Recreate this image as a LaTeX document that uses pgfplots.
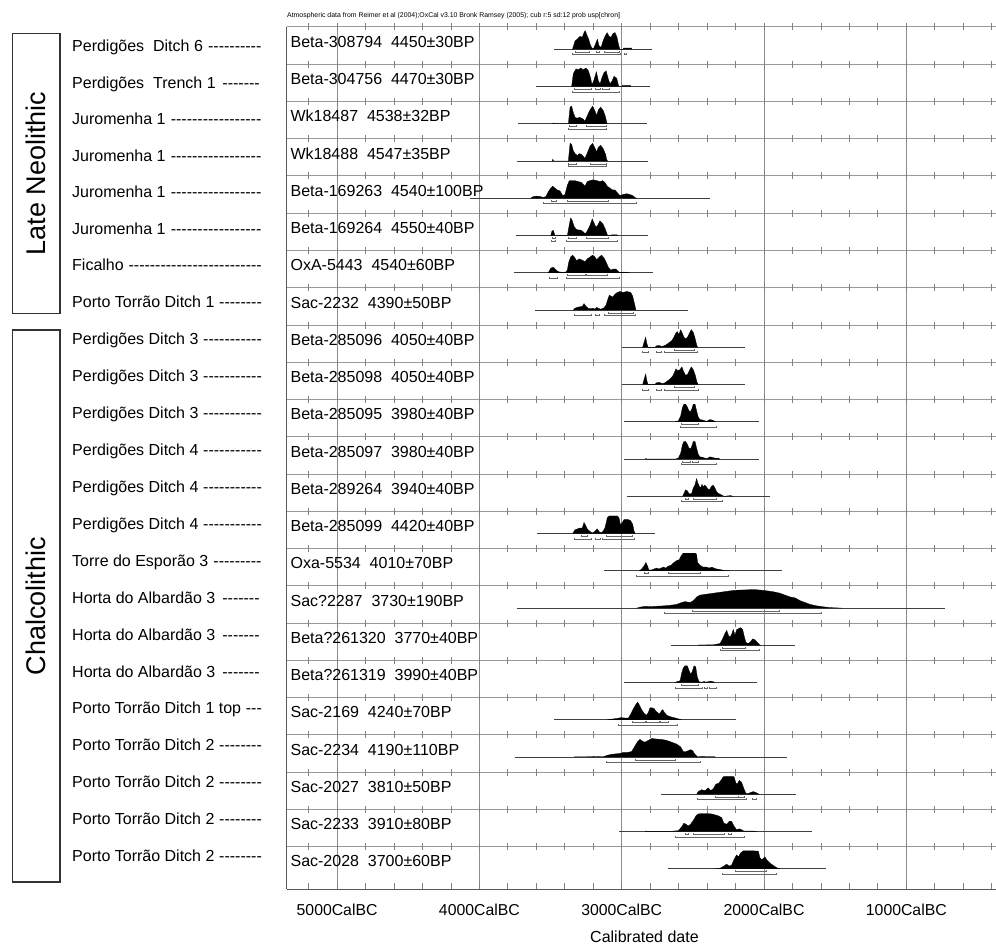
\documentclass[border=0pt]{standalone}
\usepackage{fontspec}
\setmainfont{Liberation Sans}
\usepackage{pgfplots}
\usepackage{pgfplotstable}
\pgfplotsset{compat=1.18}
\newcommand\fs[1]{\fontsize{#1}{#1}\selectfont}
\pgfplotstableread{
x y
400 0
600 0
800 0
1000 0
1200 0
1400 0
1600 0
1800 0
2000 0
2200 0
2400 0
2600 0
2800 0
3000 0
3200 0
3400 0
3600 0
3800 0
4000 0
4200 0
4400 0
4600 0
4800 0
5000 0
5200 0
}\septicktable
% #1 = depth of baseline below top (rows), #2 = table of year / relative height
\newcommand\dist[2]{\addplot[draw=black, line width=0.3pt, fill=black] table[header=false, row sep=\\, x index=0, y expr={0.5*\thisrowno{1}-#1}] {#2};}
\newcommand\rng[3]{\addplot[black!75, line width=0.8pt] coordinates {(#2,-#1) (#3,-#1)};}
\newcommand\bA[3]{\addplot[black!60, line width=0.6pt] table[header=false, row sep=\\, x index=0, y expr={\thisrowno{1}-#1-0.075}] {#2 0.035\\ #2 0\\ #3 0\\ #3 0.035\\};}
\newcommand\bB[3]{\addplot[black!60, line width=0.6pt] table[header=false, row sep=\\, x index=0, y expr={\thisrowno{1}-#1-0.145}] {#2 0.035\\ #2 0\\ #3 0\\ #3 0.035\\};}
\newcommand\lab[2]{\node[anchor=base west, inner sep=0pt, xshift=3.4pt, font={\fs{16}}] at (axis cs:5352,#1) {#2};}
\newcommand\llab[2]{\node[anchor=base west, inner sep=0pt] at (72pt,#1pt) {\fs{16}\hbox to 190pt{#2\ \cleaders\hbox{-}\hfill}};}
\begin{document}
\begin{tikzpicture}
\useasboundingbox (0,0) rectangle (996pt,945pt);
\begin{axis}[
  at={(287pt,56pt)}, anchor=south west,
  scale only axis, width=709pt, height=862pt,
  x dir=reverse, xmin=370, xmax=5352, ymin=-23.14, ymax=0,
  axis x line=bottom, axis y line=left,
  axis line style={-, black!65, line width=1pt},
  every inner x axis line/.append style={-}, every inner y axis line/.append style={-},
  xtick={1000,2000,3000,4000,5000},
  xticklabels={1000CalBC,2000CalBC,3000CalBC,4000CalBC,5000CalBC},
  minor xtick={400,600,...,5200},
  tick align=inside, major tick length=6pt, minor tick length=6pt,
  xtick style={black!50, line width=0.8pt},
  xticklabel style={font={\fs{15.8}}, anchor=base, yshift=-26pt},
  ytick={-22,-21,...,0}, yticklabels={}, ytick style={draw=none},
  xmajorgrids, ymajorgrids,
  x grid style={black!45, line width=1pt},
  y grid style={black!40, line width=1pt},
  xlabel={Calibrated date},
  xlabel style={font={\fs{16}}, at={(axis cs:2840,-23.14)}, anchor=base, yshift=-53pt, inner sep=0pt},
]
\pgfplotsinvokeforeach{0,...,22}{
  \addplot[only marks, mark=|, mark size=3.5pt, mark options={black!50, line width=0.8pt}] table[x=x, y expr={\thisrow{y}-#1}] {\septicktable};
}
% Row 1
\rng{0.6}{3476}{2789}
\dist{0.6}{3346 0\\ 3328 0.45\\ 3312 0.55\\ 3293 0.7\\ 3277 0.65\\ 3265 0.9\\ 3256 1.0\\ 3244 0.75\\ 3232 0.55\\ 3223 0.3\\ 3209 0.05\\ 3195 0.08\\ 3181 0.35\\ 3171 0.55\\ 3160 0.2\\ 3145 0.1\\ 3131 0.45\\ 3117 0.7\\ 3103 0.9\\ 3089 0.7\\ 3075 0.65\\ 3061 0.85\\ 3047 0.9\\ 3033 0.65\\ 3021 0.2\\ 3012 0\\ 2990 0\\ 2989 0.07\\ 2930 0.07\\ 2929 0\\}
\bA{0.6}{3324}{3228}\bA{0.6}{3176}{3157}\bA{0.6}{3124}{3017}
\bB{0.6}{3345}{3007}\bB{0.6}{2984}{2965}
% Row 2
\rng{1.6}{3602}{2801}
\dist{1.6}{3352 0\\ 3340 0.7\\ 3321 0.95\\ 3305 0.9\\ 3288 1.0\\ 3270 0.9\\ 3251 1.0\\ 3234 0.85\\ 3218 0.45\\ 3209 0.1\\ 3195 0.35\\ 3178 0.8\\ 3164 0.3\\ 3152 0.15\\ 3138 0.5\\ 3124 0.75\\ 3110 0.85\\ 3094 0.4\\ 3082 0.15\\ 3068 0.3\\ 3054 0.55\\ 3035 0.45\\ 3024 0.1\\ 3019 0\\ 2997 0\\ 2996 0.06\\ 2937 0.06\\ 2936 0\\}
\bA{1.6}{3335}{3211}\bA{1.6}{3183}{3152}\bA{1.6}{3134}{3089}
\bB{1.6}{3344}{3019}
% Row 3
\rng{2.6}{3726}{2820}
\dist{2.6}{3485 0\\ 3480 0.05\\ 3475 0\\ 3375 0\\ 3363 0.9\\ 3352 0.95\\ 3340 0.6\\ 3328 0.35\\ 3312 0.3\\ 3298 0.35\\ 3281 0.3\\ 3270 0.25\\ 3258 0.15\\ 3241 0.45\\ 3223 0.75\\ 3204 0.95\\ 3188 0.7\\ 3176 0.45\\ 3164 0.75\\ 3148 0.9\\ 3129 0.7\\ 3115 0.4\\ 3106 0.1\\ 3101 0\\}
\bA{2.6}{3370}{3321}\bA{2.6}{3251}{3110}
\bB{2.6}{3375}{3106}
% Row 4
\rng{3.6}{3738}{2818}
\dist{3.6}{3490 0\\ 3484 0.1\\ 3478 0\\ 3375 0\\ 3363 0.95\\ 3352 0.9\\ 3340 0.55\\ 3328 0.4\\ 3312 0.3\\ 3298 0.4\\ 3281 0.35\\ 3270 0.25\\ 3258 0.15\\ 3241 0.45\\ 3223 0.8\\ 3204 0.95\\ 3188 0.7\\ 3176 0.5\\ 3164 0.75\\ 3148 0.85\\ 3129 0.65\\ 3113 0.35\\ 3106 0.1\\ 3099 0\\}
\bA{3.6}{3375}{3321}\bA{3.6}{3223}{3110}
\bB{3.6}{3375}{3106}
% Row 5
\rng{4.6}{4066}{2380}
\dist{4.6}{3640 0\\ 3621 0.1\\ 3598 0.12\\ 3574 0.1\\ 3551 0.05\\ 3532 0.1\\ 3516 0.35\\ 3499 0.55\\ 3485 0.65\\ 3469 0.55\\ 3453 0.45\\ 3434 0.4\\ 3415 0.15\\ 3399 0.2\\ 3382 0.7\\ 3368 0.95\\ 3352 0.95\\ 3329 0.95\\ 3305 0.9\\ 3282 0.85\\ 3258 0.65\\ 3242 0.9\\ 3223 0.95\\ 3200 1.0\\ 3176 0.95\\ 3153 0.9\\ 3134 0.95\\ 3118 0.85\\ 3101 0.65\\ 3083 0.55\\ 3064 0.45\\ 3047 0.45\\ 3031 0.3\\ 3012 0.15\\ 2994 0.2\\ 2965 0.25\\ 2942 0.2\\ 2923 0.15\\ 2907 0.05\\ 2895 0\\}
\bA{4.6}{3493}{3462}\bA{4.6}{3382}{3094}
\bB{4.6}{3551}{2900}
% Row 6
\rng{5.6}{3743}{2813}
\dist{5.6}{3499 0\\ 3490 0.25\\ 3481 0.28\\ 3469 0\\ 3382 0\\ 3368 0.6\\ 3359 0.95\\ 3350 0.85\\ 3335 0.5\\ 3321 0.35\\ 3305 0.3\\ 3289 0.3\\ 3270 0.2\\ 3256 0.1\\ 3242 0.25\\ 3223 0.55\\ 3207 0.9\\ 3193 0.65\\ 3181 0.45\\ 3169 0.55\\ 3153 0.8\\ 3134 0.65\\ 3118 0.4\\ 3106 0.15\\ 3099 0\\ 3072 0\\ 3071 0.04\\ 3031 0.04\\ 3030 0\\}
\bA{5.6}{3490}{3469}\bA{5.6}{3375}{3321}\bA{5.6}{3247}{3094}
\bB{5.6}{3497}{3467}\bB{5.6}{3387}{3031}
% Row 7
\rng{6.6}{3757}{2778}
\dist{6.6}{3516 0\\ 3499 0.25\\ 3481 0.3\\ 3467 0.2\\ 3453 0.1\\ 3439 0.05\\ 3411 0.03\\ 3392 0.05\\ 3382 0.15\\ 3373 0.55\\ 3359 0.85\\ 3345 0.95\\ 3333 0.85\\ 3317 0.65\\ 3300 0.75\\ 3282 0.7\\ 3258 0.6\\ 3242 0.75\\ 3223 0.85\\ 3204 0.95\\ 3188 0.85\\ 3176 0.7\\ 3158 0.85\\ 3141 0.95\\ 3125 0.8\\ 3111 0.6\\ 3094 0.3\\ 3078 0.15\\ 3059 0.2\\ 3040 0.2\\ 3026 0.1\\ 3017 0.03\\ 2984 0.04\\ 2965 0.03\\ 2942 0\\}
\bA{6.6}{3382}{3258}\bA{6.6}{3251}{3101}
\bB{6.6}{3509}{3453}\bB{6.6}{3392}{3017}
% Row 8
\rng{7.6}{3609}{2533}
\dist{7.6}{3340 0\\ 3329 0.1\\ 3312 0.15\\ 3293 0.18\\ 3277 0.2\\ 3265 0.35\\ 3251 0.2\\ 3235 0.1\\ 3216 0.08\\ 3200 0.1\\ 3188 0.05\\ 3176 0.15\\ 3165 0.1\\ 3148 0.05\\ 3129 0.1\\ 3111 0.25\\ 3099 0.55\\ 3087 0.8\\ 3076 0.75\\ 3064 0.7\\ 3047 0.85\\ 3031 0.95\\ 3012 1.0\\ 2989 0.95\\ 2965 1.0\\ 2937 0.95\\ 2923 0.75\\ 2909 0.3\\ 2900 0\\}
\bA{7.6}{3094}{2919}
\bB{7.6}{3333}{3211}\bB{7.6}{3188}{3158}\bB{7.6}{3122}{2907}
% Row 9
\rng{8.6}{3001}{2134}
\dist{8.6}{2853 0\\ 2842 0.3\\ 2832 0.55\\ 2823 0.2\\ 2815 0\\ 2767 0\\ 2755 0.08\\ 2736 0.1\\ 2720 0.05\\ 2703 0.08\\ 2685 0.15\\ 2668 0.25\\ 2649 0.35\\ 2633 0.55\\ 2621 0.75\\ 2610 0.85\\ 2598 0.7\\ 2586 0.95\\ 2574 0.75\\ 2563 0.55\\ 2551 0.45\\ 2537 0.55\\ 2525 0.75\\ 2511 0.95\\ 2497 0.8\\ 2485 0.5\\ 2474 0.15\\ 2467 0\\}
\bA{8.6}{2633}{2492}
\bB{8.6}{2856}{2813}\bB{8.6}{2755}{2720}\bB{8.6}{2703}{2469}
% Row 10
\rng{9.6}{3001}{2134}
\dist{9.6}{2853 0\\ 2842 0.3\\ 2832 0.57\\ 2823 0.2\\ 2815 0\\ 2767 0\\ 2755 0.1\\ 2736 0.12\\ 2713 0.05\\ 2696 0.1\\ 2678 0.2\\ 2661 0.3\\ 2642 0.45\\ 2630 0.65\\ 2619 0.85\\ 2607 0.75\\ 2591 0.8\\ 2577 0.95\\ 2565 0.7\\ 2551 0.5\\ 2537 0.55\\ 2525 0.75\\ 2511 0.95\\ 2497 0.8\\ 2483 0.5\\ 2472 0.15\\ 2462 0\\}
\bA{9.6}{2633}{2492}
\bB{9.6}{2856}{2813}\bB{9.6}{2755}{2720}\bB{9.6}{2703}{2462}
% Row 11
\rng{10.6}{2984}{2036}
\dist{10.6}{2624 0\\ 2603 0.05\\ 2586 0.3\\ 2574 0.75\\ 2563 0.95\\ 2551 0.95\\ 2539 0.8\\ 2528 0.6\\ 2516 0.55\\ 2507 0.7\\ 2497 0.95\\ 2485 0.95\\ 2474 0.6\\ 2462 0.25\\ 2450 0.12\\ 2432 0.1\\ 2415 0.05\\ 2399 0.04\\ 2380 0.12\\ 2366 0.1\\ 2352 0.05\\ 2338 0\\}
\bA{10.6}{2579}{2462}
\bB{10.6}{2586}{2338}
% Row 12
\rng{11.6}{2984}{2036}
\dist{11.6}{2835 0\\ 2830 0.04\\ 2825 0\\ 2624 0\\ 2603 0.05\\ 2586 0.3\\ 2574 0.75\\ 2563 0.95\\ 2551 0.95\\ 2539 0.8\\ 2528 0.6\\ 2516 0.55\\ 2507 0.7\\ 2497 0.95\\ 2485 0.95\\ 2474 0.6\\ 2462 0.25\\ 2450 0.12\\ 2432 0.1\\ 2415 0.05\\ 2399 0.04\\ 2380 0.12\\ 2366 0.1\\ 2345 0.05\\ 2320 0.05\\ 2310 0\\}
\bA{11.6}{2574}{2516}\bA{11.6}{2507}{2462}
\bB{11.6}{2584}{2338}
% Row 13
\rng{12.6}{2966}{1959}
\dist{12.6}{2572 0\\ 2563 0.15\\ 2551 0.35\\ 2539 0.3\\ 2528 0.15\\ 2509 0.15\\ 2497 0.45\\ 2486 0.6\\ 2474 0.95\\ 2464 0.7\\ 2455 0.55\\ 2446 0.45\\ 2436 0.65\\ 2427 0.5\\ 2418 0.6\\ 2408 0.55\\ 2399 0.45\\ 2389 0.35\\ 2380 0.4\\ 2368 0.55\\ 2357 0.6\\ 2345 0.45\\ 2333 0.25\\ 2319 0.15\\ 2305 0.1\\ 2291 0.05\\ 2282 0\\ 2251 0.03\\ 2235 0.04\\ 2216 0\\}
\bA{12.6}{2556}{2532}\bA{12.6}{2497}{2338}
\bB{12.6}{2579}{2291}
% Row 14
\rng{13.6}{3595}{2764}
\dist{13.6}{3345 0\\ 3329 0.2\\ 3312 0.25\\ 3293 0.3\\ 3277 0.3\\ 3265 0.6\\ 3254 0.45\\ 3242 0.25\\ 3228 0.15\\ 3212 0.05\\ 3200 0.05\\ 3186 0.15\\ 3172 0.25\\ 3158 0.1\\ 3148 0.05\\ 3134 0.1\\ 3118 0.3\\ 3101 0.85\\ 3087 0.95\\ 3059 0.95\\ 3031 0.95\\ 3019 0.85\\ 3008 0.45\\ 2996 0.6\\ 2984 0.75\\ 2954 0.75\\ 2938 0.7\\ 2923 0.5\\ 2914 0.15\\ 2905 0\\}
\bA{13.6}{3282}{3242}\bA{13.6}{3106}{2926}
\bB{13.6}{3336}{3212}\bB{13.6}{3188}{3148}\bB{13.6}{3137}{2909}
% Row 15
\rng{14.6}{3123}{1877}
\dist{14.6}{2877 0\\ 2860 0.1\\ 2844 0.25\\ 2830 0.45\\ 2818 0.25\\ 2809 0.05\\ 2790 0.05\\ 2774 0.1\\ 2755 0.15\\ 2738 0.1\\ 2724 0.15\\ 2708 0.2\\ 2689 0.15\\ 2673 0.25\\ 2654 0.3\\ 2633 0.45\\ 2614 0.55\\ 2596 0.6\\ 2579 0.85\\ 2568 0.95\\ 2544 0.95\\ 2516 0.95\\ 2486 0.95\\ 2474 0.9\\ 2467 0.45\\ 2450 0.3\\ 2427 0.2\\ 2404 0.2\\ 2385 0.15\\ 2366 0.2\\ 2352 0.15\\ 2333 0.1\\ 2314 0.08\\ 2298 0.05\\ 2282 0.03\\ 2240 0\\}
\bA{14.6}{2844}{2813}\bA{14.6}{2673}{2450}
\bB{14.6}{2900}{2251}
% Row 16
\rng{15.6}{3738}{728}
\dist{15.6}{2895 0\\ 2871 0.05\\ 2836 0.1\\ 2801 0.08\\ 2754 0.1\\ 2707 0.12\\ 2661 0.15\\ 2614 0.2\\ 2579 0.3\\ 2555 0.35\\ 2520 0.3\\ 2497 0.4\\ 2473 0.6\\ 2450 0.7\\ 2403 0.75\\ 2356 0.8\\ 2309 0.85\\ 2262 0.9\\ 2216 0.95\\ 2169 0.97\\ 2122 0.98\\ 2075 1.0\\ 2028 0.97\\ 1981 0.93\\ 1935 0.88\\ 1888 0.8\\ 1853 0.7\\ 1817 0.6\\ 1782 0.55\\ 1747 0.4\\ 1712 0.3\\ 1677 0.2\\ 1630 0.12\\ 1583 0.07\\ 1536 0.03\\ 1455 0\\}
\bA{15.6}{2504}{1895}
\bB{15.6}{2703}{1600}
% Row 17
\rng{16.6}{2654}{1782}
\dist{16.6}{2462 0\\ 2461 0.02\\ 2356 0.03\\ 2309 0.1\\ 2291 0.35\\ 2274 0.65\\ 2262 0.8\\ 2248 0.5\\ 2239 0.45\\ 2227 0.6\\ 2216 0.85\\ 2204 0.55\\ 2192 0.85\\ 2178 0.9\\ 2164 0.95\\ 2150 0.85\\ 2138 0.45\\ 2127 0.15\\ 2110 0.1\\ 2094 0.2\\ 2080 0.35\\ 2063 0.3\\ 2047 0.15\\ 2028 0.02\\ 2024 0\\}
\bA{16.6}{2291}{2134}
\bB{16.6}{2309}{2033}
% Row 18
\rng{17.6}{2981}{2052}
\dist{17.6}{2625 0\\ 2614 0.05\\ 2590 0.1\\ 2579 0.5\\ 2567 0.8\\ 2555 0.9\\ 2539 0.9\\ 2527 0.65\\ 2515 0.45\\ 2504 0.6\\ 2492 0.9\\ 2480 0.85\\ 2469 0.3\\ 2457 0.05\\ 2438 0.02\\ 2422 0.06\\ 2408 0.03\\ 2391 0.05\\ 2375 0.08\\ 2356 0.05\\ 2344 0\\}
\bA{17.6}{2579}{2462}
\bB{17.6}{2625}{2431}\bB{17.6}{2422}{2398}\bB{17.6}{2384}{2337}
% Row 19
\rng{18.6}{3473}{2197}
\dist{18.6}{3100 0\\ 3094 0.03\\ 3059 0.05\\ 3031 0.08\\ 3007 0.12\\ 2977 0.1\\ 2953 0.1\\ 2937 0.3\\ 2918 0.6\\ 2899 0.85\\ 2888 0.95\\ 2876 0.8\\ 2860 0.55\\ 2843 0.35\\ 2825 0.25\\ 2813 0.4\\ 2801 0.65\\ 2787 0.65\\ 2771 0.6\\ 2759 0.45\\ 2747 0.4\\ 2736 0.3\\ 2724 0.45\\ 2712 0.55\\ 2700 0.4\\ 2684 0.25\\ 2668 0.2\\ 2649 0.15\\ 2632 0.12\\ 2614 0.08\\ 2590 0.03\\ 2579 0\\}
\bA{18.6}{2925}{2836}\bA{18.6}{2825}{2738}\bA{18.6}{2731}{2672}
\bB{18.6}{3024}{2609}
% Row 20
\rng{19.6}{3750}{1841}
\dist{19.6}{3335 0\\ 3329 0.02\\ 3247 0.02\\ 3176 0.03\\ 3130 0.02\\ 3101 0.1\\ 3071 0.15\\ 3036 0.18\\ 3012 0.2\\ 2989 0.25\\ 2961 0.25\\ 2930 0.3\\ 2907 0.6\\ 2891 0.8\\ 2872 0.95\\ 2853 0.85\\ 2837 0.8\\ 2813 0.9\\ 2790 1.0\\ 2755 0.97\\ 2720 0.95\\ 2685 0.9\\ 2649 0.8\\ 2614 0.7\\ 2586 0.55\\ 2567 0.3\\ 2549 0.3\\ 2532 0.35\\ 2516 0.4\\ 2502 0.35\\ 2485 0.15\\ 2469 0.03\\ 2345 0.02\\ 2340 0\\}
\bA{19.6}{2907}{2621}
\bB{19.6}{3106}{2450}
% Row 21
\rng{20.6}{2724}{1778}
\dist{20.6}{2474 0\\ 2462 0.15\\ 2439 0.25\\ 2415 0.2\\ 2392 0.35\\ 2375 0.2\\ 2357 0.3\\ 2338 0.55\\ 2319 0.6\\ 2303 0.75\\ 2286 0.95\\ 2263 0.97\\ 2235 0.97\\ 2211 0.95\\ 2197 0.6\\ 2188 0.55\\ 2174 0.75\\ 2158 0.65\\ 2141 0.3\\ 2127 0.05\\ 2111 0.05\\ 2094 0.1\\ 2076 0.15\\ 2057 0.1\\ 2040 0.03\\ 2033 0\\}
\bA{20.6}{2345}{2181}\bA{20.6}{2181}{2141}
\bB{20.6}{2467}{2127}\bB{20.6}{2083}{2052}
% Row 22
\rng{21.6}{3019}{1666}
\dist{21.6}{2835 0\\ 2830 0.04\\ 2825 0\\ 2673 0\\ 2638 0.03\\ 2603 0.05\\ 2579 0.25\\ 2563 0.45\\ 2549 0.4\\ 2532 0.3\\ 2516 0.4\\ 2497 0.6\\ 2478 0.85\\ 2462 0.95\\ 2432 0.97\\ 2403 0.97\\ 2368 0.95\\ 2345 0.9\\ 2322 0.85\\ 2298 0.75\\ 2282 0.45\\ 2263 0.4\\ 2244 0.55\\ 2228 0.55\\ 2211 0.3\\ 2193 0.1\\ 2174 0.15\\ 2158 0.1\\ 2141 0.03\\ 2076 0.03\\ 2047 0\\}
\bA{21.6}{2551}{2532}\bA{21.6}{2497}{2282}\bA{21.6}{2251}{2228}
\bB{21.6}{2626}{2141}
% Row 23
\rng{22.6}{2673}{1567}
\dist{22.6}{2345 0\\ 2310 0.03\\ 2282 0.15\\ 2263 0.25\\ 2244 0.15\\ 2228 0.2\\ 2211 0.5\\ 2193 0.75\\ 2179 0.65\\ 2165 0.85\\ 2146 0.97\\ 2111 0.97\\ 2076 0.97\\ 2040 0.95\\ 2029 0.6\\ 2017 0.5\\ 2005 0.55\\ 1994 0.65\\ 1982 0.5\\ 1963 0.35\\ 1947 0.25\\ 1923 0.12\\ 1907 0.05\\ 1888 0\\}
\bA{22.6}{2204}{1982}
\bB{22.6}{2293}{1916}
% Row labels
\lab{-0.545}{Beta-308794\ \ 4450±30BP}
\lab{-1.545}{Beta-304756\ \ 4470±30BP}
\lab{-2.545}{Wk18487\ \ 4538±32BP}
\lab{-3.545}{Wk18488\ \ 4547±35BP}
\lab{-4.545}{Beta-169263\ \ 4540±100BP}
\lab{-5.545}{Beta-169264\ \ 4550±40BP}
\lab{-6.545}{OxA-5443\ \ 4540±60BP}
\lab{-7.545}{Sac-2232\ \ 4390±50BP}
\lab{-8.545}{Beta-285096\ \ 4050±40BP}
\lab{-9.545}{Beta-285098\ \ 4050±40BP}
\lab{-10.545}{Beta-285095\ \ 3980±40BP}
\lab{-11.545}{Beta-285097\ \ 3980±40BP}
\lab{-12.545}{Beta-289264\ \ 3940±40BP}
\lab{-13.545}{Beta-285099\ \ 4420±40BP}
\lab{-14.545}{Oxa-5534\ \ 4010±70BP}
\lab{-15.545}{Sac?2287\ \ 3730±190BP}
\lab{-16.545}{Beta?261320\ \ 3770±40BP}
\lab{-17.545}{Beta?261319\ \ 3990±40BP}
\lab{-18.545}{Sac-2169\ \ 4240±70BP}
\lab{-19.545}{Sac-2234\ \ 4190±110BP}
\lab{-20.545}{Sac-2027\ \ 3810±50BP}
\lab{-21.545}{Sac-2233\ \ 3910±80BP}
\lab{-22.545}{Sac-2028\ \ 3700±60BP}
\end{axis}
% header
\node[anchor=base west, inner sep=0pt] at (287pt,927pt) {\fs{6.9}Atmospheric data from Reimer et al (2004);OxCal v3.10 Bronk Ramsey (2005); cub r:5 sd:12 prob usp[chron]};
% group boxes
\draw[black!80, line width=1.2pt] (12.7pt,631.7pt) rectangle (60pt,911.7pt);
\node[rotate=90, inner sep=0pt] at (36pt,771.7pt) {\fs{27}Late Neolithic};
\draw[black!80, line width=1.2pt] (12.7pt,63pt) rectangle (60pt,615pt);
\node[rotate=90, inner sep=0pt] at (36pt,339pt) {\fs{27}Chalcolithic};
% left labels
\llab{893.3}{Perdigões\ \ Ditch 6}
\llab{856.8}{Perdigões\ \ Trench 1}
\llab{820.3}{Juromenha 1}
\llab{783.8}{Juromenha 1}
\llab{747.3}{Juromenha 1}
\llab{710.8}{Juromenha 1}
\llab{674.3}{Ficalho}
\llab{637.8}{Porto Torrão Ditch 1}
\llab{600}{Perdigões Ditch 3}
\llab{563.1}{Perdigões Ditch 3}
\llab{526.2}{Perdigões Ditch 3}
\llab{489.3}{Perdigões Ditch 4}
\llab{452.4}{Perdigões Ditch 4}
\llab{415.5}{Perdigões Ditch 4}
\llab{378.6}{Torre do Esporão 3}
\llab{341.7}{Horta do Albardão 3}
\llab{304.8}{Horta do Albardão 3}
\llab{267.9}{Horta do Albardão 3}
\llab{231}{Porto Torrão Ditch 1 top}
\llab{194.1}{Porto Torrão Ditch 2}
\llab{157.2}{Porto Torrão Ditch 2}
\llab{120.3}{Porto Torrão Ditch 2}
\llab{83.4}{Porto Torrão Ditch 2}
\end{tikzpicture}
\end{document}
